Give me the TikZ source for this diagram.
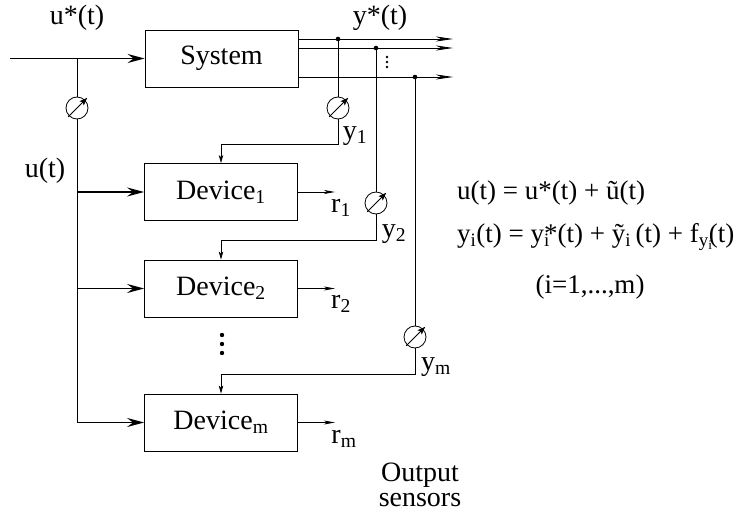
\documentclass[tikz,border=0pt]{standalone}
\usepackage{fontspec}
\setmainfont{Liberation Serif}
\usetikzlibrary{arrows.meta, positioning, calc}

\begin{document}
\begin{tikzpicture}[x=1pt, y=-1pt, font=\fontsize{28}{32}\selectfont,
  block/.style={draw, line width=0.8pt, minimum width=153pt, minimum height=57pt, inner sep=0pt},
  meter/.style={draw, circle, line width=0.8pt, minimum size=22pt, inner sep=0pt},
  lbl/.style={inner sep=0pt},
  eqn/.style={inner sep=0pt, anchor=west, font=\fontsize{27}{32}\selectfont},
  sig/.style={line width=0.8pt},
  inarrow/.style={line width=1.9pt, -{Stealth[length=17pt, width=9pt, inset=6pt]}},
  outarrow/.style={line width=0.8pt, -{Stealth[length=17pt, width=5pt, inset=5pt]}},
  rarrow/.style={line width=0.8pt, -{Stealth[length=11pt, width=4pt, inset=3pt]}},
  feed/.style={line width=0.8pt, -{Stealth[length=8pt, width=4.5pt, inset=2pt]}}]
  \useasboundingbox (0,0) rectangle (747,516);

  % blocks
  \node[block] (sys)  at (221.5,58.5) {System};
  \node[block] (dev1) at (221,192)    {Device\textsubscript{1}};
  \node[block] (dev2) at (221,288.5)  {Device\textsubscript{2}};
  \node[block] (devm) at (221,422.5)  {Device\textsubscript{m}};

  % input side
  \coordinate (in) at (10,58.5);
  \coordinate (split) at (77,58.5);
  \node[meter] (su) at (77,108) {};
  \draw[inarrow] (in) -- (sys);
  \draw[sig] (split) -- (su) -- (split |- devm);
  \foreach \d in {dev1,dev2,devm}
    \draw[inarrow] (split |- \d) -- (\d.west);

  % outputs of the system
  \coordinate (o1) at (298,39);  \coordinate (e1) at (453,39);
  \coordinate (o2) at (298,48);  \coordinate (e2) at (453,48);
  \coordinate (o3) at (298,77);  \coordinate (e3) at (453,77);
  \foreach \k in {1,2,3}
    \draw[outarrow] (o\k) -- (e\k);
  \coordinate (j1) at (338,39);
  \coordinate (j2) at (376,48);
  \coordinate (j3) at (415,77);
  \foreach \j in {j1,j2,j3}
    \fill (\j) circle (2.3pt);
  \foreach \yy in {57,62,67}
    \fill (387,\yy) circle (1.3pt);

  % output sensors
  \node[meter] (s1) at (338,108) {};
  \node[meter] (s2) at (376,203) {};
  \node[meter] (sm) at (415,337) {};
  \coordinate (c1) at (338,144);
  \coordinate (c2) at (376,240);
  \coordinate (cm) at (415,374);
  \draw[feed] (j1) -- (s1) -- (c1) -| (dev1.north);
  \draw[feed] (j2) -- (s2) -- (c2) -| (dev2.north);
  \draw[feed] (j3) -- (sm) -- (cm) -| (devm.north);
  \foreach \m in {su,s1,s2,sm}
    \draw[line width=0.8pt, shorten >=-3pt, shorten <=-1pt,
      -{Stealth[length=8pt, width=6pt, inset=2pt]}] (\m.225) -- (\m.45);

  % residuals
  \foreach \d/\r in {dev1/1,dev2/2,devm/m}
    \draw[rarrow] (\d.east) -- ++(37,0) coordinate (r\r);
  \foreach \yy in {335,344,353}
    \fill (222,\yy) circle (2.2pt);

  % labels
  \node[lbl] (lustar) at (77,18)  {u*(t)};
  \node[lbl] (lystar) at (380,18) {y*(t)};
  \node[lbl] (lu)     at (45,171) {u(t)};
  \node[lbl] (ly1)    at (355,136) {y\textsubscript{1}};
  \node[lbl] (ly2)    at (394,234) {y\textsubscript{2}};
  \node[lbl] (lym)    at (436,367) {y\textsubscript{m}};
  \node[lbl] (lr1)    at (341,208) {r\textsubscript{1}};
  \node[lbl] (lr2)    at (341,304) {r\textsubscript{2}};
  \node[lbl] (lrm)    at (344,439) {r\textsubscript{m}};
  \node[lbl, align=center, font=\fontsize{28}{25}\selectfont] (lsens) at (420,485) {Output\\sensors};

  % equations
  \node[eqn] (eq1) at (457,193) {u(t) = u*(t) + \~{u}(t)};
  \node[eqn] (eq2) at (457,237)
    {y\textsubscript{i}(t) = y\rlap{\textsubscript{i}}*(t) + \~{y}\textsubscript{i}\,(t) + f\textsubscript{y\rlap{\textsubscript{i}}}(t)};
  \node[lbl, font=\fontsize{27}{32}\selectfont] (eq3) at (590,287) {(i=1,...,m)};
\end{tikzpicture}
\end{document}
